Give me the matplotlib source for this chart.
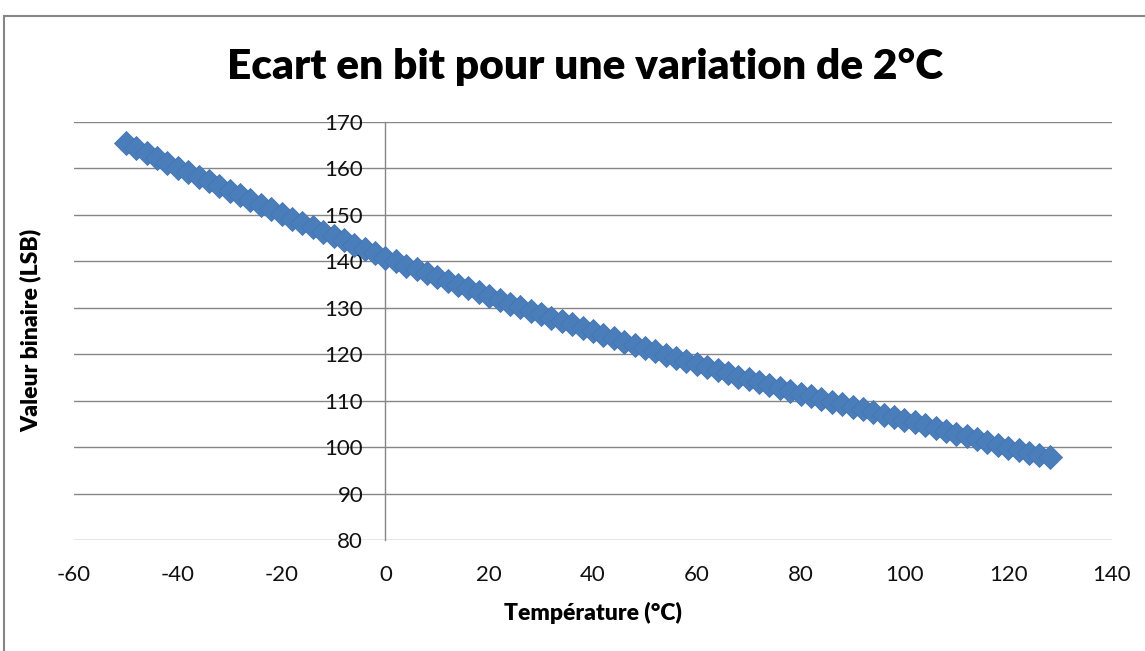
import matplotlib.pyplot as plt
from matplotlib.patches import Rectangle

# temperature steps of 2 degC and the matching ADC value
temperature = list(range(-50, 129, 2))
valeur = [
    165.4, 164.4, 163.3, 162.3, 161.2, 160.2, 159.2, 158.2, 157.2, 156.2,
    155.2, 154.2, 153.2, 152.2, 151.2, 150.2, 149.2, 148.3, 147.3, 146.4,
    145.4, 144.5, 143.5, 142.6, 141.7, 140.8, 140.0, 139.1, 138.3, 137.4,
    136.6, 135.8, 135.0, 134.2, 133.3, 132.5, 131.7, 130.9, 130.2, 129.4,
    128.6, 127.9, 127.1, 126.4, 125.6, 124.9, 124.2, 123.4, 122.7, 122.0,
    121.3, 120.6, 119.9, 119.2, 118.5, 117.8, 117.2, 116.5, 115.9, 115.2,
    114.6, 114.0, 113.4, 112.8, 112.1, 111.5, 110.9, 110.4, 109.8, 109.2,
    108.7, 108.1, 107.6, 107.0, 106.5, 105.9, 105.3, 104.7, 104.1, 103.5,
    102.9, 102.3, 101.7, 101.1, 100.5, 99.9, 99.3, 98.8, 98.3, 97.8,
]

x_ticks = list(range(-60, 141, 20))
y_ticks = list(range(80, 171, 10))

plt.rcParams['font.family'] = ['Lato', 'DejaVu Sans']
plt.rcParams['axes.unicode_minus'] = False

W, H = 1145, 651
fig = plt.figure(figsize=(W / 100, H / 100), dpi=100)
ax = fig.add_axes([74 / W, 1 - 540 / H, (1112 - 74) / W, (540 - 122) / H])

grey = '#868686'

# horizontal grid
for yv in y_ticks:
    ax.axhline(yv, color=grey, lw=1.0, zorder=1)

ax.plot(temperature, valeur, linestyle='none', marker='D', markersize=12.5,
        color='#4A7EBB', markeredgecolor='#4575B3', markeredgewidth=0.6, zorder=3)

ax.set_xlim(-60, 140)
ax.set_ylim(80, 170)
ax.set_xticks(x_ticks)
ax.set_yticks(y_ticks)

for s in ['top', 'right', 'bottom']:
    ax.spines[s].set_visible(False)
ax.spines['left'].set_position(('data', 0))
ax.spines['left'].set_color(grey)
ax.spines['left'].set_linewidth(1.0)

ax.tick_params(axis='y', length=0, pad=16, labelsize=16, labelcolor='#111111')
ax.tick_params(axis='x', length=0, pad=18, labelsize=16, labelcolor='#111111')

ax.set_xlabel('Température (°C)', fontsize=16.5, fontweight='heavy', labelpad=12)
fig.text(31 / W, 1 - 330 / H, 'Valeur binaire (LSB)', rotation=90,
         ha='center', va='center', fontsize=16.5, fontweight='heavy')

fig.text(585 / W, 1 - 67 / H, 'Ecart en bit pour une variation de 2°C',
         ha='center', va='center', fontsize=30.5, fontweight='heavy')

# chart border
fig.patches.append(Rectangle((4 / W, -0.1), 2, 1 - 16 / H + 0.1,
                             transform=fig.transFigure, fill=False,
                             edgecolor=grey, lw=1.5))

fig.savefig('out.png', dpi=100)
